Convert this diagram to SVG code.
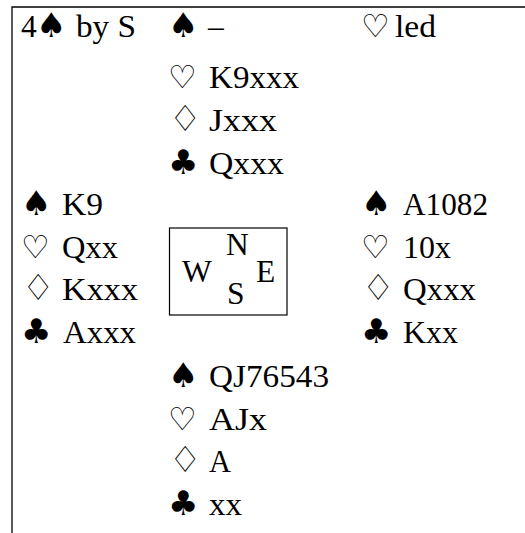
<svg xmlns="http://www.w3.org/2000/svg" width="525" height="533" viewBox="0 0 525 533">
<style>
.t{font-family:"Liberation Serif","Times New Roman",serif;font-size:31.5px;fill:#000}
.s{font-family:"DejaVu Sans",sans-serif;font-size:34px;fill:#000}
.h{font-family:"DejaVu Sans",sans-serif;font-size:32px;fill:#000}
.d{font-family:"DejaVu Sans",sans-serif;font-size:36px;fill:#000}
.frame{fill:none;stroke:#000;stroke-width:1.3}
.box{fill:none;stroke:#000;stroke-width:1.2}
</style>
<rect width="525" height="533" fill="#fff"/>
<path class="frame" d="M12,533 V7 H525"/>
<g id="contract">
<text class="t" x="21" y="36.5">4</text><text class="s" x="36" y="36.5">♠</text><text class="t" x="76" y="36.5" textLength="60" lengthAdjust="spacingAndGlyphs">by S</text>
</g>
<g id="lead">
<text class="h" x="361" y="36.5">♡</text><text class="t" x="395" y="36.5" textLength="41" lengthAdjust="spacingAndGlyphs">led</text>
</g>
<g id="north">
<text class="s" x="168" y="36.5">♠</text><text class="t" x="208" y="36.5">–</text>
<text class="h" x="168" y="88">♡</text><text class="t" x="209" y="88" textLength="90" lengthAdjust="spacingAndGlyphs">K9xxx</text>
<text class="d" x="169" y="131">♢</text><text class="t" x="209" y="131" textLength="68" lengthAdjust="spacingAndGlyphs">Jxxx</text>
<text class="s" x="168" y="174">♣</text><text class="t" x="209" y="174" textLength="75" lengthAdjust="spacingAndGlyphs">Qxxx</text>
</g>
<g id="west">
<text class="s" x="21" y="215">♠</text><text class="t" x="62" y="215" textLength="41" lengthAdjust="spacingAndGlyphs">K9</text>
<text class="h" x="21" y="257.5">♡</text><text class="t" x="62" y="257.5" textLength="56" lengthAdjust="spacingAndGlyphs">Qxx</text>
<text class="d" x="22" y="300">♢</text><text class="t" x="62" y="300" textLength="76" lengthAdjust="spacingAndGlyphs">Kxxx</text>
<text class="s" x="21" y="343">♣</text><text class="t" x="63" y="343" textLength="73" lengthAdjust="spacingAndGlyphs">Axxx</text>
</g>
<g id="east">
<text class="s" x="361" y="215">♠</text><text class="t" x="403" y="215" textLength="85" lengthAdjust="spacingAndGlyphs">A1082</text>
<text class="h" x="361" y="257.5">♡</text><text class="t" x="403" y="257.5" textLength="48" lengthAdjust="spacingAndGlyphs">10x</text>
<text class="d" x="362" y="300">♢</text><text class="t" x="403" y="300" textLength="73" lengthAdjust="spacingAndGlyphs">Qxxx</text>
<text class="s" x="361" y="343">♣</text><text class="t" x="403" y="343" textLength="55" lengthAdjust="spacingAndGlyphs">Kxx</text>
</g>
<g id="compass">
<rect class="box" x="169.5" y="228" width="117.5" height="87"/>
<text class="t" x="182" y="282">W</text>
<text class="t" x="226" y="255">N</text>
<text class="t" x="227" y="304">S</text>
<text class="t" x="256" y="282">E</text>
</g>
<g id="south">
<text class="s" x="168" y="387">♠</text><text class="t" x="209" y="387" textLength="120" lengthAdjust="spacingAndGlyphs">QJ76543</text>
<text class="h" x="168" y="429.5">♡</text><text class="t" x="209" y="429.5" textLength="58" lengthAdjust="spacingAndGlyphs">AJx</text>
<text class="d" x="169" y="472">♢</text><text class="t" x="209" y="472" textLength="22" lengthAdjust="spacingAndGlyphs">A</text>
<text class="s" x="168" y="515">♣</text><text class="t" x="209" y="515" textLength="33" lengthAdjust="spacingAndGlyphs">xx</text>
</g>
<g id="connectors"/>
</svg>
